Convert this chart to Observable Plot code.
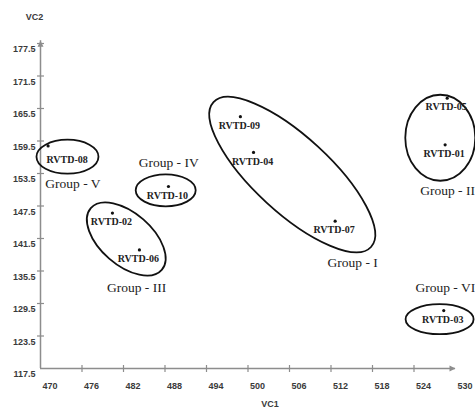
<!DOCTYPE html>
<html><head><meta charset="utf-8">
<script src="https://cdn.jsdelivr.net/npm/d3@7"></script>
<script src="https://cdn.jsdelivr.net/npm/@observablehq/plot@0.6"></script>
<style>body{margin:0;background:#fff}</style>
</head><body><div id="chart"></div>
<script>
// ---- data ----
const names = ["RVTD-01","RVTD-02","RVTD-03","RVTD-04","RVTD-05","RVTD-06","RVTD-07","RVTD-08","RVTD-09","RVTD-10"];
const vc1 = [528.5, 480.4, 528.3, 500.8, 528.8, 484.3, 512.6, 471.1, 498.9, 488.5];
const vc2 = [158.8, 146.2, 128.2, 157.4, 167.4, 139.4, 144.7, 158.6, 164.0, 151.1];
const xTicks = [470, 476, 482, 488, 494, 500, 506, 512, 518, 524, 530];
const yTicks = [117.5, 123.5, 129.5, 135.5, 141.5, 147.5, 153.5, 159.5, 165.5, 171.5, 177.5];
const groupNames = ["Group - I", "Group - II", "Group - III", "Group - IV", "Group - V", "Group - VI"];
const groupLabelX = [511.5, 524.9, 479.6, 484.2, 470.7, 524.2];
const groupLabelY = [137.0, 150.3, 132.4, 155.5, 151.6, 132.4];
const groupCenterX = [506.4, 527.8, 482.4, 488.1, 473.9, 527.7];
const groupCenterY = [153.3, 160.1, 141.4, 150.4, 156.6, 126.6];

// ---- layout / style ----
const ellipseShape = [ // rx, ry (px), rotation (deg clockwise)
  [107, 38, 42.6], [35, 43, 0], [47, 26, 41], [30, 16, 0], [31, 17, 0], [34, 15, 0]
];
const axisColor = "#8d8d8d";
const points = names.map((n, i) => ({name: n, x: vc1[i], y: vc2[i]}));
const groups = groupNames.map((g, i) => ({name: g, lx: groupLabelX[i], ly: groupLabelY[i], cx: groupCenterX[i], cy: groupCenterY[i]}));

function ellipseSymbol(rx, ry) {
  const k = 0.5523;
  return {draw(ctx) {
    ctx.moveTo(rx, 0);
    ctx.bezierCurveTo(rx, ry * k, rx * k, ry, 0, ry);
    ctx.bezierCurveTo(-rx * k, ry, -rx, ry * k, -rx, 0);
    ctx.bezierCurveTo(-rx, -ry * k, -rx * k, -ry, 0, -ry);
    ctx.bezierCurveTo(rx * k, -ry, rx, -ry * k, rx, 0);
    ctx.closePath();
  }};
}
const vTick = {draw(ctx) { ctx.moveTo(0, -3.5); ctx.lineTo(0, 3.5); }};
const hTick = {draw(ctx) { ctx.moveTo(-3.5, 0); ctx.lineTo(3.5, 0); }};
const arrowRight = {draw(ctx) { ctx.moveTo(0, 0); ctx.lineTo(-6, -3); ctx.lineTo(-6, 3); ctx.closePath(); }};
const arrowUp = {draw(ctx) { ctx.moveTo(0, 0); ctx.lineTo(-3, 6); ctx.lineTo(3, 6); ctx.closePath(); }};

const serif = "Liberation Serif, Times New Roman, serif";

const chart = Plot.plot({
  width: 475,
  height: 414,
  marginLeft: 40,
  marginRight: 20,
  marginTop: 43,
  marginBottom: 46,
  style: {fontFamily: "Liberation Sans, Arial, sans-serif", fontSize: "9px", background: "#fff", color: "#333"},
  x: {domain: [470, 530]},
  y: {domain: [117.5, 177.5]},
  marks: [
    // axis lines
    Plot.ruleY([117.5], {x1: 470, x2: 530, stroke: axisColor, strokeWidth: 1.5}),
    Plot.ruleX([470], {y1: 117.5, y2: 178, stroke: axisColor, strokeWidth: 1.5}),
    Plot.dot([530], {x: d => d, y: 117.5, symbol: arrowRight, fill: axisColor, stroke: "none"}),
    Plot.dot([178], {x: 470, y: d => d, symbol: arrowUp, fill: axisColor, stroke: "none"}),
    // tick marks crossing the axes
    Plot.dot(xTicks.slice(1, -1), {x: d => d, y: 117.5, symbol: vTick, stroke: axisColor, strokeWidth: 1.2, fill: "none"}),
    Plot.dot(yTicks.slice(1), {x: 470, y: d => d, symbol: hTick, stroke: axisColor, strokeWidth: 1.2, fill: "none"}),
    // tick labels
    Plot.axisX(xTicks, {tickSize: 0, tickPadding: 14, dx: 9.5, fontWeight: "bold", fill: "#3a3a3a", label: null, tickFormat: d => String(d)}),
    Plot.axisY(yTicks, {tickSize: 0, tickPadding: 5, dy: 6, fontWeight: "bold", fill: "#3a3a3a", label: null, tickFormat: d => d.toFixed(1)}),
    // axis titles
    Plot.text(["VC2"], {frameAnchor: "top-left", dx: -6, dy: -30, textAnchor: "middle", fontWeight: "bold", fill: "#3a3a3a"}),
    Plot.text(["VC1"], {frameAnchor: "bottom", dx: 22, dy: 38, textAnchor: "middle", fontWeight: "bold", fill: "#3a3a3a"}),
    // group ellipses
    ...groups.map((g, i) => Plot.dot([g], {x: "cx", y: "cy", symbol: ellipseSymbol(ellipseShape[i][0], ellipseShape[i][1]), rotate: ellipseShape[i][2], stroke: "#111", strokeWidth: 1.8, fill: "none"})),
    // points
    Plot.dot(points, {x: "x", y: "y", r: 1.6, fill: "#111", stroke: "none"}),
    Plot.text(points.filter(d => d.name !== "RVTD-08"), {x: "x", y: "y", text: "name", dx: -1, dy: 9, fontFamily: serif, fontWeight: "bold", fontSize: 10, fill: "#222"}),
    Plot.text(points.filter(d => d.name === "RVTD-08"), {x: "x", y: "y", text: "name", dx: 19, dy: 14, fontFamily: serif, fontWeight: "bold", fontSize: 10, fill: "#222"}),
    // group labels
    Plot.text(groups, {x: "lx", y: "ly", text: "name", textAnchor: "start", fontFamily: serif, fontSize: 13.5, fill: "#222"})
  ]
});
document.getElementById("chart").appendChild(chart);
</script>
</body></html>
